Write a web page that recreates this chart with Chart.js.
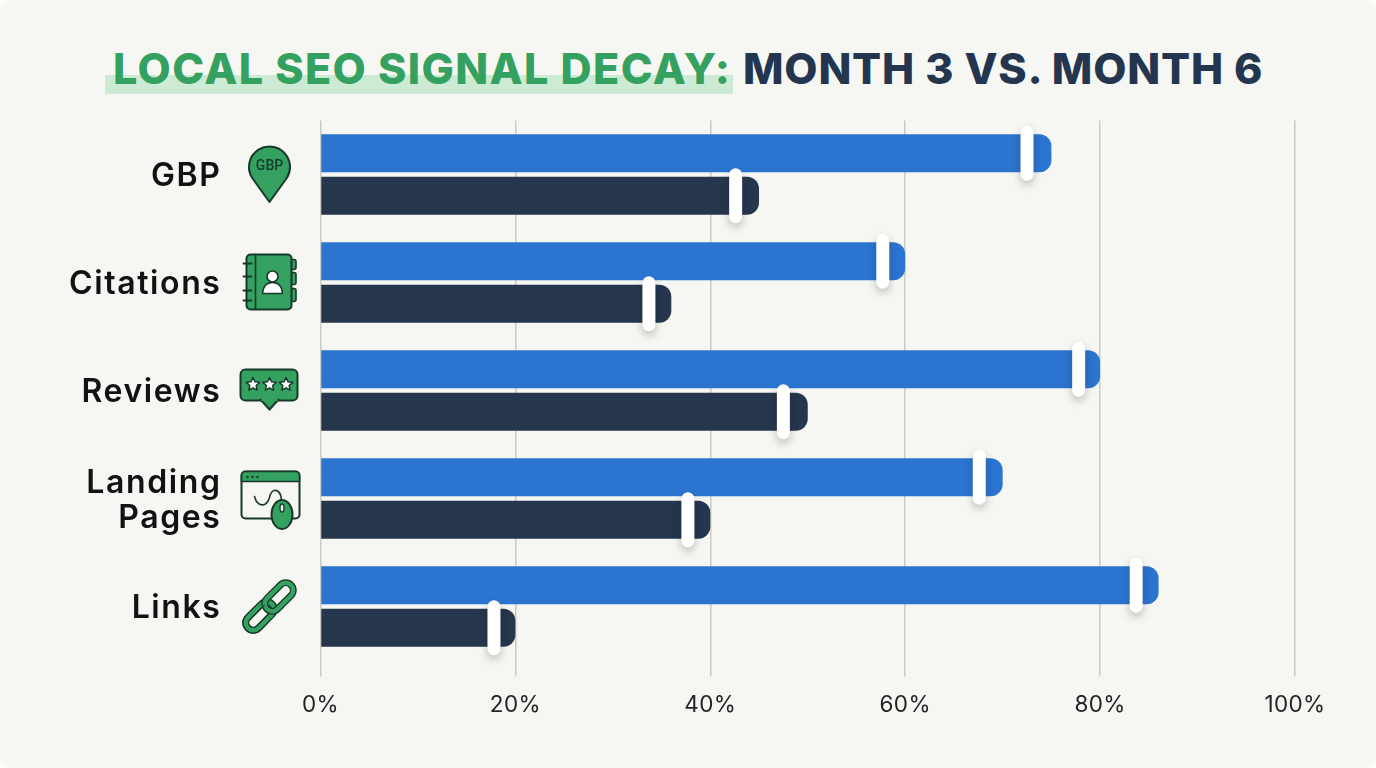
<!DOCTYPE html>
<html lang="en">
<head>
<meta charset="utf-8">
<title>Local SEO Signal Decay</title>
<script src="https://cdn.jsdelivr.net/npm/chart.js@4"></script>
<style>
  html, body { margin: 0; padding: 0; background: #fdfdfb; }
  #card { position: relative; width: 1376px; height: 768px; background: #f6f7f2; border-radius: 14px; overflow: hidden; }
  #highlight { position: absolute; left: 105px; top: 75px; width: 628px; height: 19px; background: #cdeAd4; }
  #title { position: absolute; left: 113px; top: 41px; margin: 0; white-space: nowrap;
           font: 800 43px/54px Inter, sans-serif; color: #24364f; }
  #title .lead { color: #34a160; letter-spacing: 1.4px; }
  #title .tail { position: absolute; left: 630px; top: 0; letter-spacing: 0.8px; }
  canvas { position: absolute; left: 0; top: 0; }
</style>
</head>
<body>
<div id="card">
  <div id="highlight"></div>
  <h1 id="title"><span class="lead">LOCAL SEO SIGNAL DECAY:</span><span class="tail">MONTH 3 VS. MONTH 6</span></h1>
  <canvas id="chart" width="1376" height="768"></canvas>
</div>
<script>
const categories = ["GBP", "Citations", "Reviews", ["Landing", "Pages"], "Links"];
const month3 = [75, 60, 80, 70, 86];
const month6 = [45, 36, 50, 40, 20];
const month3Markers = [72.5, 57.7, 77.8, 67.6, 83.7];
const month6Markers = [42.6, 33.7, 47.5, 37.7, 17.8];
const axisTicks = [0, 20, 40, 60, 80, 100];

const GREEN = "#34a160";
const INK = "#17382a";
const PAPER = "#f6f7f2";

function roundRect(ctx, x, y, w, h, r) {
  ctx.beginPath();
  ctx.roundRect(x, y, w, h, r);
}

function paint(ctx, fill, stroke, width) {
  if (fill) { ctx.fillStyle = fill; ctx.fill(); }
  if (stroke) { ctx.strokeStyle = stroke; ctx.lineWidth = width || 2; ctx.stroke(); }
}

function star(ctx, cx, cy, R) {
  ctx.beginPath();
  for (let i = 0; i < 10; i++) {
    const r = i % 2 ? R * 0.48 : R;
    const a = -Math.PI / 2 + i * Math.PI / 5;
    ctx.lineTo(cx + r * Math.cos(a), cy + r * Math.sin(a));
  }
  ctx.closePath();
}

// Row icons, each drawn around the row's centre line.
const icons = [
  function pin(ctx, cx, cy) {
    const c = cy - 7.5;
    ctx.beginPath();
    ctx.arc(cx, c, 20.5, Math.PI * 0.82, Math.PI * 0.18);
    ctx.lineTo(cx, cy + 27.5);
    ctx.closePath();
    paint(ctx, GREEN, INK, 2);
    ctx.fillStyle = INK;
    ctx.font = "500 14px Roboto, sans-serif";
    ctx.textAlign = "center";
    ctx.textBaseline = "middle";
    ctx.fillText("GBP", cx, c - 0.5);
  },
  function addressBook(ctx, cx, cy) {
    [[-23, 10], [-10, 12], [6, 13]].forEach(([dy, h]) => {
      roundRect(ctx, cx + 21, cy + dy, 5.5, h, 2);
      paint(ctx, GREEN, INK, 1.6);
    });
    roundRect(ctx, cx - 23, cy - 28, 45, 55, 4);
    paint(ctx, GREEN, INK, 2);
    ctx.beginPath();
    ctx.moveTo(cx - 14, cy - 28);
    ctx.lineTo(cx - 14, cy + 27);
    paint(ctx, null, INK, 1.6);
    [-19, -6, 8, 18].forEach(dy => {
      ctx.beginPath();
      ctx.moveTo(cx - 26, cy + dy);
      ctx.lineTo(cx - 18, cy + dy);
      paint(ctx, null, INK, 2);
    });
    ctx.beginPath();
    ctx.arc(cx + 3, cy - 6, 5.5, 0, Math.PI * 2);
    paint(ctx, "#ffffff", INK, 1.6);
    ctx.beginPath();
    ctx.moveTo(cx - 7, cy + 11);
    ctx.quadraticCurveTo(cx - 6, cy, cx + 3, cy);
    ctx.quadraticCurveTo(cx + 12, cy, cx + 13, cy + 11);
    ctx.closePath();
    paint(ctx, "#ffffff", INK, 1.4);
  },
  function reviewBubble(ctx, cx, cy) {
    const top = cy - 21, bottom = cy + 10, l = cx - 29, r = cx + 28;
    ctx.beginPath();
    ctx.roundRect(l, top, r - l, bottom - top, 5);
    paint(ctx, GREEN, INK, 2);
    ctx.beginPath();
    ctx.moveTo(cx - 9, bottom - 1);
    ctx.lineTo(cx, bottom + 9);
    ctx.lineTo(cx + 9, bottom - 1);
    paint(ctx, GREEN, INK, 2);
    ctx.fillStyle = GREEN;
    ctx.fillRect(cx - 8, bottom - 2.5, 16, 3);
    [-16.5, 0, 16.5].forEach(dx => {
      star(ctx, cx + dx, cy - 6, 7);
      paint(ctx, "#ffffff", INK, 1.5);
    });
  },
  function browserWindow(ctx, cx, cy) {
    const l = cx - 28, t = cy - 27, w = 58, h = 47;
    roundRect(ctx, l, t, w, h, 4);
    paint(ctx, PAPER, INK, 2);
    roundRect(ctx, l, t, w, 10, [4, 4, 0, 0]);
    paint(ctx, GREEN, INK, 1.6);
    ctx.fillStyle = INK;
    [6, 11, 16].forEach(dx => {
      ctx.beginPath();
      ctx.arc(l + dx, t + 5.5, 1.2, 0, Math.PI * 2);
      ctx.fill();
    });
    ctx.beginPath();
    ctx.moveTo(cx - 15, cy - 2);
    ctx.bezierCurveTo(cx - 12, cy + 9, cx - 3, cy + 9, cx, cy - 1);
    ctx.bezierCurveTo(cx + 2, cy - 11, cx + 11, cy - 11, cx + 12, cy + 2);
    paint(ctx, null, INK, 1.6);
    ctx.beginPath();
    ctx.ellipse(cx + 12.5, cy + 16, 10.5, 14.5, 0, 0, Math.PI * 2);
    paint(ctx, GREEN, INK, 2);
    ctx.beginPath();
    ctx.ellipse(cx + 12.5, cy + 9.5, 2, 4, 0, 0, Math.PI * 2);
    paint(ctx, PAPER, INK, 1.4);
  },
  function chain(ctx, cx, cy) {
    const link = (dx, dy) => {
      ctx.save();
      ctx.translate(cx + dx, cy + dy);
      ctx.rotate(-Math.PI / 4);
      roundRect(ctx, -17, -7.5, 34, 15, 7.5);
      paint(ctx, null, INK, 7);
      roundRect(ctx, -17, -7.5, 34, 15, 7.5);
      paint(ctx, null, GREEN, 4.4);
      ctx.restore();
    };
    link(-9.5, 9.5);
    link(9.5, -9.5);
    ctx.save();
    ctx.beginPath();
    ctx.rect(cx - 30, cy - 1, 30, 30);
    ctx.clip();
    link(-9.5, 9.5);
    ctx.restore();
  }
];

const rowIcons = {
  id: "rowIcons",
  afterDraw(chart) {
    const ctx = chart.ctx;
    const y = chart.scales.y;
    ctx.save();
    ctx.letterSpacing = "0px";
    ctx.lineJoin = "round";
    ctx.lineCap = "round";
    icons.forEach((draw, i) => draw(ctx, 269.5, y.getPixelForTick(i)));
    ctx.restore();
  }
};

// White pills sitting near the end of every bar.
const barMarkers = {
  id: "barMarkers",
  afterDatasetsDraw(chart) {
    const ctx = chart.ctx;
    const x = chart.scales.x;
    [month3Markers, month6Markers].forEach((values, d) => {
      const meta = chart.getDatasetMeta(d);
      values.forEach((v, i) => {
        const px = x.getPixelForValue(v);
        const py = meta.data[i].y;
        ctx.save();
        ctx.shadowColor = "rgba(30,35,40,0.28)";
        ctx.shadowBlur = 9;
        ctx.shadowOffsetY = 4;
        ctx.fillStyle = "#ffffff";
        ctx.beginPath();
        ctx.roundRect(px - 6.5, py - 27.5, 13, 55, 6.5);
        ctx.fill();
        ctx.restore();
      });
    });
  }
};

// Category labels and percent labels use different tracking.
const labelTracking = { x: "0.4px", y: "1.6px" };
const textSpacing = {
  id: "textSpacing",
  beforeDraw(chart) {
    Object.keys(labelTracking).forEach(id => {
      const scale = chart.scales[id];
      const drawLabels = scale.drawLabels;
      if (scale._tracked) return;
      scale._tracked = true;
      scale.drawLabels = function (area) {
        chart.ctx.letterSpacing = labelTracking[id];
        drawLabels.call(scale, area);
        chart.ctx.letterSpacing = "0px";
      };
    });
  }
};

function datasetStyle(color) {
  return {
    backgroundColor: color,
    borderWidth: 0,
    borderSkipped: false,
    borderRadius: { topLeft: 0, bottomLeft: 0, topRight: 12, bottomRight: 12 },
    categoryPercentage: 85 / 108,
    barPercentage: 38 / 42.5
  };
}

new Chart(document.getElementById("chart"), {
  type: "bar",
  data: {
    labels: categories,
    datasets: [
      Object.assign({ label: "Month 3", data: month3 }, datasetStyle("#2b74d0")),
      Object.assign({ label: "Month 6", data: month6 }, datasetStyle("#25364d"))
    ]
  },
  plugins: [textSpacing, barMarkers, rowIcons],
  options: {
    indexAxis: "y",
    responsive: false,
    animation: false,
    layout: { padding: { top: 120.5, right: 81, bottom: 0, left: 0 } },
    plugins: { legend: { display: false }, title: { display: false }, tooltip: { enabled: false } },
    scales: {
      x: {
        min: 0,
        max: 100,
        afterBuildTicks(scale) { scale.ticks = axisTicks.map(value => ({ value })); },
        afterFit(scale) { scale.height = 107.5; },
        grid: { color: "#c9cac5", lineWidth: 1.5, tickLength: 16, drawTicks: true },
        border: { display: false },
        ticks: {
          autoSkip: false,
          maxRotation: 0,
          padding: 15,
          color: "#222426",
          font: { family: "Inter, sans-serif", size: 22.5, weight: "400" },
          callback: value => value + "%"
        }
      },
      y: {
        afterFit(scale) {
          scale.width = 320.5;
          // The wide label gutter must not eat into the plot's height.
          scale.paddingTop = 0;
          scale.paddingBottom = 0;
        },
        grid: { display: false, drawTicks: false },
        border: { display: false },
        ticks: {
          autoSkip: false,
          padding: 99,
          labelOffset: 2,
          color: "#111214",
          font: { family: "Inter, sans-serif", size: 32, weight: "600", lineHeight: 1.1 }
        }
      }
    }
  }
});
</script>
</body>
</html>
